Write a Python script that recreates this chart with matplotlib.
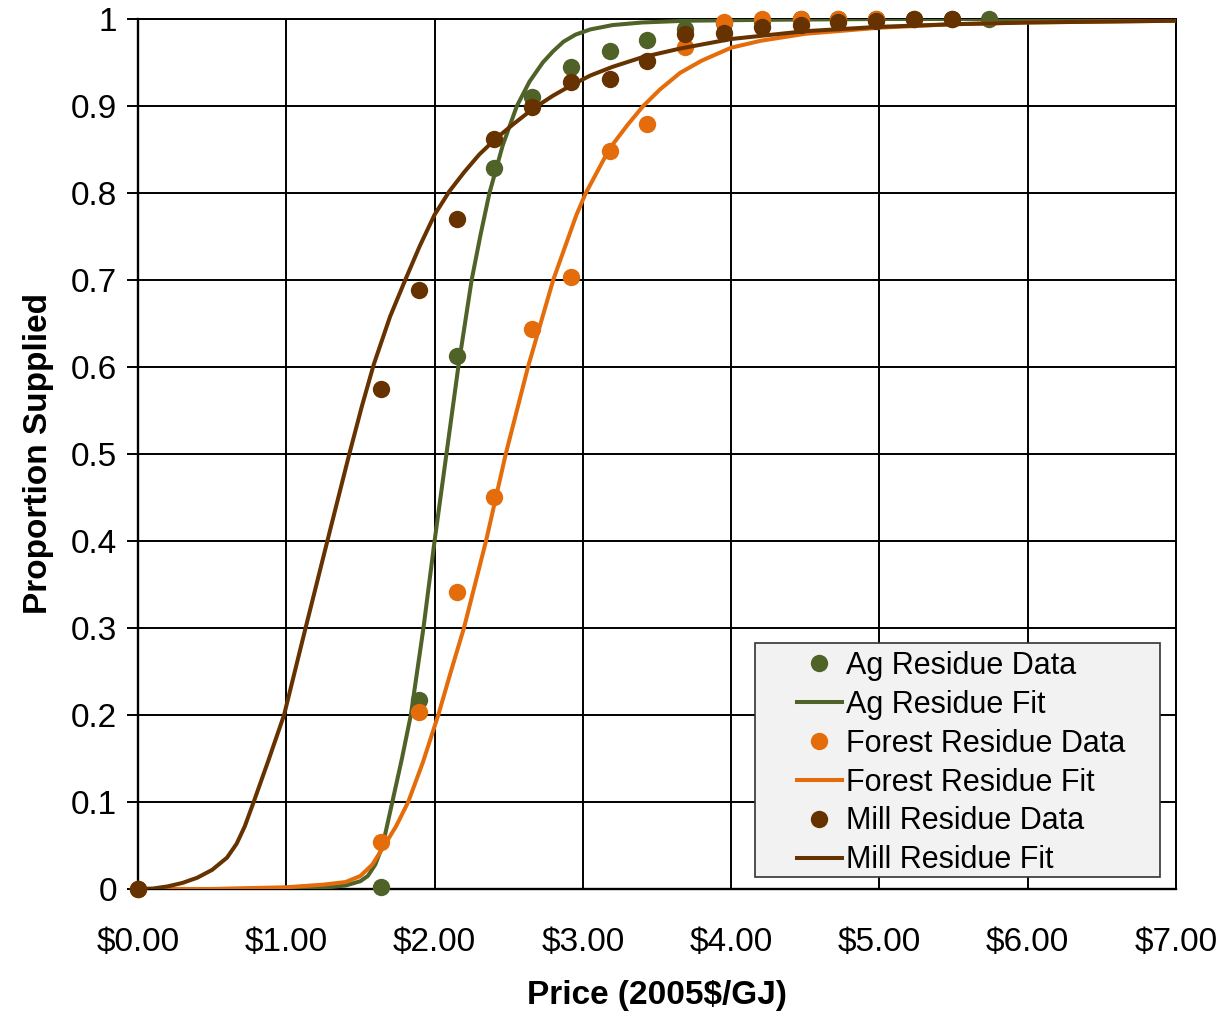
import matplotlib
matplotlib.use("Agg")
import matplotlib.pyplot as plt
from matplotlib.patches import Rectangle

plt.rcParams['font.family'] = ['Liberation Sans', 'DejaVu Sans']

# ---- data ----
price_data = [0.0, 1.64, 1.895, 2.15, 2.40, 2.66, 2.92, 3.18, 3.43, 3.69, 3.95,
              4.21, 4.47, 4.72, 4.98, 5.23, 5.49, 5.74]
ag_data = [0.0, 0.002, 0.217, 0.613, 0.829, 0.910, 0.945, 0.963, 0.976, 0.988, 0.995,
           0.998, 1.0, 1.0, 1.0, 1.0, 1.0, 1.0]
forest_price = [0.0, 1.64, 1.895, 2.15, 2.40, 2.66, 2.92, 3.18, 3.43, 3.69, 3.95,
                4.21, 4.47, 4.72, 4.98]
forest_data = [0.0, 0.054, 0.203, 0.341, 0.451, 0.644, 0.703, 0.848, 0.879, 0.968, 0.997,
               1.0, 1.0, 1.0, 1.0]
mill_price = [0.0, 1.64, 1.895, 2.15, 2.40, 2.66, 2.92, 3.18, 3.43, 3.69, 3.95,
              4.21, 4.47, 4.72, 4.98, 5.23, 5.49]
mill_data = [0.0, 0.575, 0.689, 0.770, 0.862, 0.899, 0.928, 0.931, 0.952, 0.983, 0.984,
             0.991, 0.993, 0.997, 0.998, 1.0, 1.0]

ag_fit_x = [0.0, 0.5, 1.0, 1.25, 1.4, 1.5, 1.55, 1.6, 1.65, 1.715, 1.78, 1.84, 1.925,
            2.0, 2.08, 2.16, 2.25, 2.31, 2.37, 2.46, 2.555, 2.64, 2.73, 2.8, 2.87,
            2.95, 3.05, 3.2, 3.4, 3.7, 4.2, 5.0, 7.0]
ag_fit_y = [0.0, 0.0, 0.0003, 0.0015, 0.004, 0.009, 0.015, 0.028, 0.05, 0.1, 0.15,
            0.2, 0.3, 0.4, 0.5, 0.6, 0.7, 0.752, 0.8, 0.855, 0.9, 0.928, 0.95, 0.963,
            0.974, 0.982, 0.988, 0.993, 0.996, 0.998, 0.999, 1.0, 1.0]
forest_fit_x = [0.0, 0.5, 1.0, 1.25, 1.4, 1.5, 1.58, 1.654, 1.74, 1.822, 1.92, 2.025,
                2.11, 2.198, 2.347, 2.48, 2.63, 2.80, 2.957, 3.02, 3.18, 3.3, 3.407,
                3.52, 3.655, 3.8, 4.0, 4.2, 4.5, 5.0, 5.5, 6.0, 7.0]
forest_fit_y = [0.0, 0.0, 0.002, 0.005, 0.008, 0.015, 0.028, 0.048, 0.072, 0.1, 0.145,
                0.2, 0.25, 0.3, 0.4, 0.5, 0.6, 0.7, 0.775, 0.8, 0.851, 0.878, 0.9,
                0.919, 0.938, 0.952, 0.967, 0.975, 0.983, 0.990, 0.994, 0.996, 0.998]
mill_fit_x = [0.0, 0.1, 0.2, 0.3, 0.4, 0.5, 0.6, 0.665, 0.72, 0.78, 0.88, 0.985, 1.13,
              1.277, 1.425, 1.51, 1.59, 1.7, 1.807, 1.9, 2.0, 2.1, 2.2, 2.3, 2.41, 2.53,
              2.665, 2.8, 2.924, 3.05, 3.2, 3.4, 3.655, 4.0, 4.5, 5.0, 5.5, 6.0, 7.0]
mill_fit_y = [0.0, 0.0005, 0.003, 0.007, 0.013, 0.022, 0.036, 0.052, 0.072, 0.1, 0.148,
              0.2, 0.3, 0.4, 0.5, 0.555, 0.603, 0.658, 0.702, 0.739, 0.775, 0.802,
              0.824, 0.844, 0.862, 0.879, 0.897, 0.912, 0.924, 0.935, 0.945, 0.956,
              0.966, 0.977, 0.986, 0.991, 0.994, 0.996, 0.998]

x_ticks = [0, 1, 2, 3, 4, 5, 6, 7]
x_labels = ["$0.00", "$1.00", "$2.00", "$3.00", "$4.00", "$5.00", "$6.00", "$7.00"]
y_ticks = [0, 0.1, 0.2, 0.3, 0.4, 0.5, 0.6, 0.7, 0.8, 0.9, 1.0]
y_labels = ["0", "0.1", "0.2", "0.3", "0.4", "0.5", "0.6", "0.7", "0.8", "0.9", "1"]

GREEN = '#4F6228'
ORANGE = '#E46C0A'
BROWN = '#663300'

W, H = 1227, 1014
fig = plt.figure(figsize=(W / 100, H / 100), dpi=100)
ax = fig.add_axes([138 / W, 1 - 889 / H, (1176 - 138) / W, (889 - 19) / H])

ms = 12.5
lw = 2.9
ax.plot(price_data, ag_data, 'o', color=GREEN, ms=ms, mec='none', label='Ag Residue Data',
        zorder=3, clip_on=False)
ax.plot(ag_fit_x, ag_fit_y, '-', color=GREEN, lw=lw, label='Ag Residue Fit', zorder=3)
ax.plot(forest_price, forest_data, 'o', color=ORANGE, ms=ms, mec='none',
        label='Forest Residue Data', zorder=3, clip_on=False)
ax.plot(forest_fit_x, forest_fit_y, '-', color=ORANGE, lw=lw, label='Forest Residue Fit', zorder=3)
ax.plot(mill_price, mill_data, 'o', color=BROWN, ms=ms, mec='none', label='Mill Residue Data',
        zorder=3, clip_on=False)
ax.plot(mill_fit_x, mill_fit_y, '-', color=BROWN, lw=lw, label='Mill Residue Fit', zorder=3)

ax.set_xlim(0, 7)
ax.set_ylim(0, 1)
ax.set_xticks(x_ticks)
ax.set_xticklabels(x_labels)
ax.set_yticks(y_ticks)
ax.set_yticklabels(y_labels)
ax.grid(True, color='black', lw=1.4, zorder=0)
ax.set_axisbelow(True)
for s in ax.spines.values():
    s.set_color('black')
    s.set_linewidth(1.4)
ax.spines['left'].set_linewidth(1.7)
ax.spines['bottom'].set_linewidth(1.7)
ax.tick_params(axis='y', direction='out', length=8, width=1.4, pad=7, labelsize=24)
ax.tick_params(axis='x', direction='out', length=0, width=1.4, pad=27, labelsize=24)

ax.set_xlabel('Price (2005$/GJ)', fontsize=24, fontweight='bold', labelpad=16)
ax.set_ylabel('Proportion Supplied', fontsize=24, fontweight='bold', labelpad=12)

# legend frame (drawn separately, as in the reference)
frame = Rectangle((755 / W, 1 - 877 / H), (1160 - 755) / W, (877 - 643) / H,
                  transform=fig.transFigure, facecolor='#F2F2F2', edgecolor='#333333',
                  lw=1.2, zorder=5, clip_on=False)
ax.add_patch(frame)

leg = ax.legend(loc='upper left', bbox_to_anchor=(797 / W, 1 - 651 / H),
                bbox_transform=fig.transFigure, fontsize=22, frameon=False,
                handlelength=1.47, handletextpad=0.13,
                labelspacing=0.29, borderpad=0, borderaxespad=0)
leg.set_zorder(6)

fig.savefig('out.png', dpi=100)
